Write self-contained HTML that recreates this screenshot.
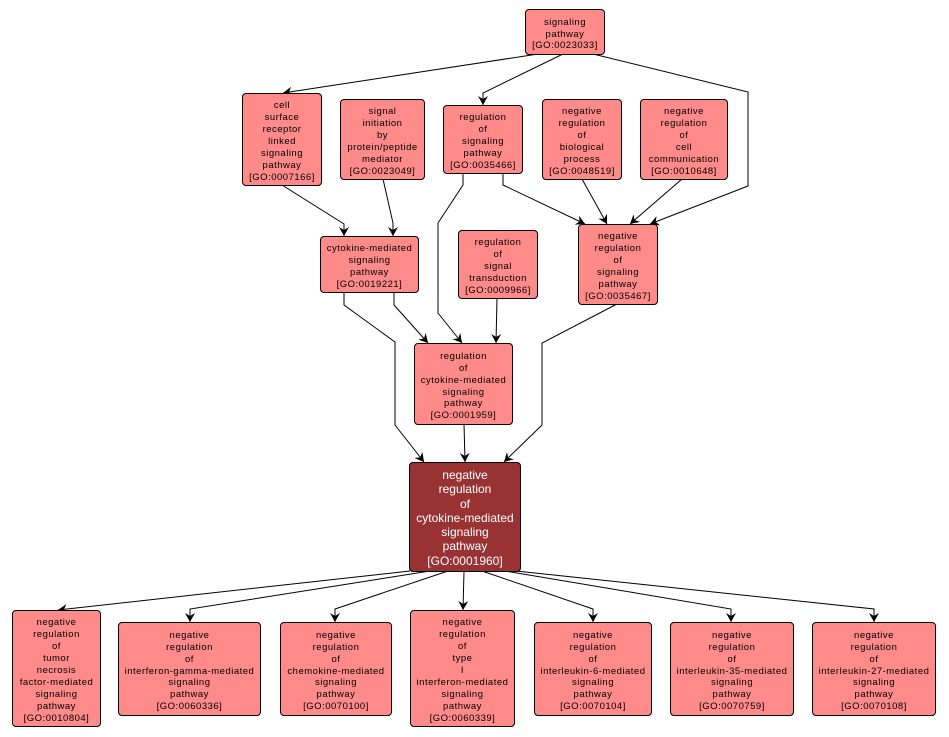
<!DOCTYPE html>
<html><head><meta charset="utf-8"><style>
html,body{margin:0;padding:0;background:#fff;}
body{width:949px;height:737px;position:relative;overflow:hidden;font-family:"Liberation Sans",Arial,sans-serif;}
.n{position:absolute;box-sizing:border-box;border:1px solid #000;border-radius:4px;background:#ff8a8a;display:flex;align-items:center;justify-content:center;text-align:center;font-size:9.5px;letter-spacing:0.5px;line-height:11.9px;color:#000;padding-top:5px;white-space:nowrap;}
.m{background:#993333;color:#fff;font-size:12px;letter-spacing:0;line-height:14.2px;padding-top:2px;}
svg{position:absolute;left:0;top:0;}
</style></head><body>
<svg width="949" height="737" viewBox="0 0 949 737">
<defs><marker id="a" markerUnits="userSpaceOnUse" markerWidth="10" markerHeight="10" refX="9" refY="5" orient="auto"><path d="M0,0 L9,5 L0,10 L3,5 z" fill="#000"/></marker></defs>
<g fill="none" stroke="#000" stroke-width="1" marker-end="url(#a)">
<polyline points="538,54 283,93"/>
<polyline points="563,54 483,93 483,105"/>
<polyline points="593,54 748,92 748,186 650,224"/>
<polyline points="282,185 344,224 344,236"/>
<polyline points="383,179 393,223 393,236"/>
<polyline points="463,173 463,185 438,223 438,313 462,343"/>
<polyline points="503,173 503,185 585,224"/>
<polyline points="582,179 607,224"/>
<polyline points="682,179 630,224"/>
<polyline points="394,292 394,305 428,343"/>
<polyline points="344,292 344,305 395,342 395,425 424,462"/>
<polyline points="497,298 496,343"/>
<polyline points="464,424 465,462"/>
<polyline points="617,304 542,343 542,425 504,462"/>
<polyline points="410,571 58,610"/>
<polyline points="430,571 190,609 190,622"/>
<polyline points="448,571 335,609 335,622"/>
<polyline points="464,571 463,610"/>
<polyline points="482,571 593,609 593,622"/>
<polyline points="505,571 731,609 731,622"/>
<polyline points="516,571 874,609 874,622"/>
</g>
</svg>
<div class="n" style="left:525px;top:9px;width:80px;height:46px;">signaling<br>pathway<br>[GO:0023033]</div>
<div class="n" style="left:242px;top:93px;width:80px;height:93px;">cell<br>surface<br>receptor<br>linked<br>signaling<br>pathway<br>[GO:0007166]</div>
<div class="n" style="left:340px;top:99px;width:85px;height:81px;">signal<br>initiation<br>by<br>protein/peptide<br>mediator<br>[GO:0023049]</div>
<div class="n" style="left:443px;top:105px;width:80px;height:69px;">regulation<br>of<br>signaling<br>pathway<br>[GO:0035466]</div>
<div class="n" style="left:542px;top:99px;width:80px;height:81px;">negative<br>regulation<br>of<br>biological<br>process<br>[GO:0048519]</div>
<div class="n" style="left:640px;top:99px;width:88px;height:81px;">negative<br>regulation<br>of<br>cell<br>communication<br>[GO:0010648]</div>
<div class="n" style="left:320px;top:236px;width:99px;height:57px;">cytokine-mediated<br>signaling<br>pathway<br>[GO:0019221]</div>
<div class="n" style="left:458px;top:230px;width:80px;height:69px;">regulation<br>of<br>signal<br>transduction<br>[GO:0009966]</div>
<div class="n" style="left:578px;top:224px;width:80px;height:81px;">negative<br>regulation<br>of<br>signaling<br>pathway<br>[GO:0035467]</div>
<div class="n" style="left:414px;top:343px;width:99px;height:82px;">regulation<br>of<br>cytokine-mediated<br>signaling<br>pathway<br>[GO:0001959]</div>
<div class="n m" style="left:409px;top:462px;width:112px;height:110px;">negative<br>regulation<br>of<br>cytokine-mediated<br>signaling<br>pathway<br>[GO:0001960]</div>
<div class="n" style="left:12px;top:610px;width:89px;height:117px;">negative<br>regulation<br>of<br>tumor<br>necrosis<br>factor-mediated<br>signaling<br>pathway<br>[GO:0010804]</div>
<div class="n" style="left:118px;top:622px;width:143px;height:94px;">negative<br>regulation<br>of<br>interferon-gamma-mediated<br>signaling<br>pathway<br>[GO:0060336]</div>
<div class="n" style="left:280px;top:622px;width:112px;height:94px;">negative<br>regulation<br>of<br>chemokine-mediated<br>signaling<br>pathway<br>[GO:0070100]</div>
<div class="n" style="left:410px;top:610px;width:105px;height:117px;">negative<br>regulation<br>of<br>type<br>I<br>interferon-mediated<br>signaling<br>pathway<br>[GO:0060339]</div>
<div class="n" style="left:534px;top:622px;width:118px;height:94px;">negative<br>regulation<br>of<br>interleukin-6-mediated<br>signaling<br>pathway<br>[GO:0070104]</div>
<div class="n" style="left:670px;top:622px;width:124px;height:94px;">negative<br>regulation<br>of<br>interleukin-35-mediated<br>signaling<br>pathway<br>[GO:0070759]</div>
<div class="n" style="left:812px;top:622px;width:124px;height:94px;">negative<br>regulation<br>of<br>interleukin-27-mediated<br>signaling<br>pathway<br>[GO:0070108]</div>
</body></html>
